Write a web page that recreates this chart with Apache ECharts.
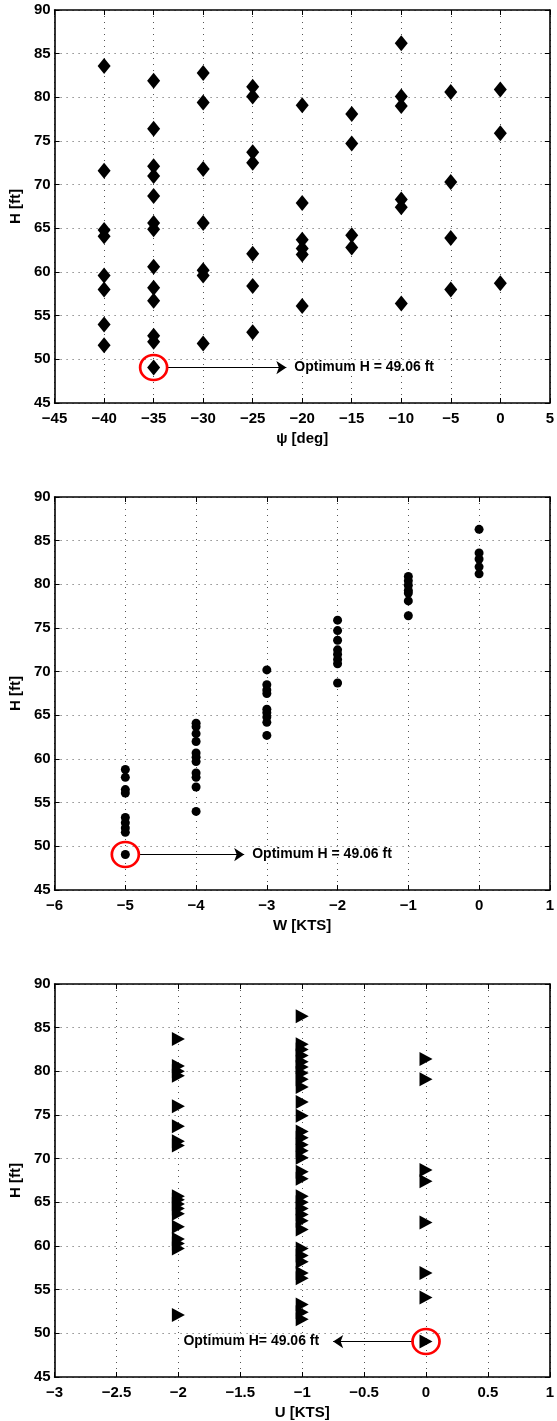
<!DOCTYPE html>
<html>
<head>
<meta charset="utf-8">
<script src="https://cdn.jsdelivr.net/npm/echarts@6/dist/echarts.min.js"></script>
<style>
  html, body { margin: 0; padding: 0; background: #fff; }
  #chart { width: 557px; height: 1421px; }
</style>
</head>
<body>
<div id="chart"></div>
<script>
// heights found for each heading (psi), descent rate (W) and forward speed (U)
var psiValues = [-40, -35, -30, -25, -20, -15, -10, -5, 0]
var hAtPsi = [
  [83.6, 71.6, 64.8, 64.1, 59.6, 58.0, 54.0, 51.6],
  [81.9, 76.4, 72.1, 71.0, 68.7, 65.6, 64.9, 60.6, 58.2, 56.7, 52.7, 52.0, 49.06],
  [82.8, 79.4, 71.8, 65.6, 60.2, 59.6, 51.8],
  [81.2, 80.1, 73.7, 72.5, 62.1, 58.4, 53.1],
  [79.1, 67.9, 63.7, 62.7, 62.0, 56.1],
  [78.1, 74.7, 64.2, 62.8],
  [86.2, 80.1, 79.0, 68.3, 67.4, 56.4],
  [80.6, 70.3, 63.9, 58.0],
  [80.9, 75.9, 58.7]
]

var wValues = [-5, -4, -3, -2, -1, 0]
var hAtW = [
  [58.8, 57.9, 56.5, 56.1, 53.3, 52.7, 52.1, 51.6, 49.06],
  [64.1, 63.7, 62.9, 62.0, 60.7, 60.2, 59.7, 58.4, 57.9, 56.8, 54.0],
  [70.2, 68.5, 67.9, 67.5, 65.7, 65.3, 64.8, 64.2, 62.7],
  [75.9, 74.7, 73.6, 72.5, 72.0, 71.4, 70.9, 68.7],
  [80.9, 80.4, 79.9, 79.3, 79.0, 78.1, 76.4],
  [86.3, 83.6, 82.9, 82.0, 81.2]
]

var uValues = [-2, -1, 0]
var hAtU = [
  [83.7, 80.6, 80.0, 79.5, 76.0, 73.7, 72.0, 71.5, 65.7, 65.3, 64.8, 64.3, 63.7, 62.2, 60.8, 60.3, 59.7, 52.1],
  [86.3, 83.1, 82.5, 81.8, 81.1, 80.5, 79.8, 79.1, 78.2, 76.5, 74.9, 73.1, 72.4, 71.6, 70.9, 70.1,
    68.5, 67.7, 65.7, 65.0, 64.3, 63.6, 62.9, 61.9, 59.7, 58.9, 58.2, 56.9, 56.3, 53.3, 52.4, 51.6],
  [81.4, 79.1, 68.7, 67.4, 62.7, 56.9, 54.1, 49.06]
]

var optH = 49.06
var optLabel = 'Optimum H = 49.06 ft'
var optLabelU = 'Optimum H= 49.06 ft'

var font = "'Liberation Sans', Arial, Helvetica, sans-serif"
var gridTops = [10, 497, 984]

function toPairs(xs, hs) {
  var out = []
  for (var i = 0; i < xs.length; i++) {
    for (var j = 0; j < hs[i].length; j++) {
      out.push([xs[i], hs[i][j]])
    }
  }
  return out
}

function minusSign(v) {
  return String(v).replace('-', '\u2212')
}

var dotted = { color: '#555', width: 1, type: [1, 5] }
var boxLine = { onZero: false, lineStyle: { color: '#000', width: 1.6 } }
var inTick = { show: true, inside: true, length: 5, lineStyle: { color: '#000' } }
var tickFont = { fontFamily: font, fontWeight: 'bold', fontSize: 15, color: '#000' }

var grids = []
var xAxes = []
var yAxes = []
var series = []

function addPanel(idx, name, min, max, interval, data, symbol, symbolSize, symbolRotate, optX, arrowFrom, arrowTo, label, labelDist) {
  grids.push({ left: 53, width: 500, top: gridTops[idx], height: 393 })
  // bottom + top x axes, left + right y axes (box with ticks on all sides)
  xAxes.push({
    gridIndex: idx, type: 'value', position: 'bottom', min: min, max: max, interval: interval,
    name: name, nameLocation: 'middle', nameGap: 28,
    nameTextStyle: { fontFamily: font, fontWeight: 'bold', fontSize: 15, color: '#000' },
    axisLine: boxLine,
    axisTick: inTick,
    axisLabel: Object.assign({ margin: 8, formatter: minusSign }, tickFont),
    splitLine: { show: true, lineStyle: dotted }
  })
  xAxes.push({
    gridIndex: idx, type: 'value', position: 'top', min: min, max: max, interval: interval,
    axisLine: boxLine,
    axisTick: inTick,
    axisLabel: { show: false },
    splitLine: { show: false }
  })
  yAxes.push({
    gridIndex: idx, type: 'value', position: 'left', min: 45, max: 90, interval: 5,
    name: 'H [ft]', nameLocation: 'middle', nameGap: 28, nameRotate: 90,
    nameTextStyle: { fontFamily: font, fontWeight: 'bold', fontSize: 15, color: '#000' },
    axisLine: Object.assign({ show: true }, boxLine),
    axisTick: inTick,
    axisLabel: Object.assign({ margin: 4 }, tickFont),
    splitLine: { show: true, lineStyle: dotted }
  })
  yAxes.push({
    gridIndex: idx, type: 'value', position: 'right', min: 45, max: 90, interval: 5,
    axisLine: Object.assign({ show: true }, boxLine),
    axisTick: inTick,
    axisLabel: { show: false },
    splitLine: { show: false }
  })
  series.push({
    type: 'scatter',
    xAxisIndex: idx * 2,
    yAxisIndex: idx * 2,
    data: data,
    symbol: symbol,
    symbolSize: symbolSize,
    symbolRotate: symbolRotate,
    itemStyle: { color: '#000', opacity: 1 },
    markPoint: {
      silent: true,
      data: [{
        coord: [optX, optH],
        symbol: 'circle',
        symbolSize: [27, 25],
        itemStyle: { color: 'rgba(0,0,0,0)', borderColor: '#ff0000', borderWidth: 2.6 },
        label: { show: false }
      }]
    },
    markLine: {
      silent: true,
      symbol: ['none', 'arrow'],
      symbolSize: 10,
      lineStyle: { color: '#000', width: 1, type: 'solid' },
      label: {
        show: true, position: 'end', distance: labelDist, formatter: label,
        fontFamily: font, fontWeight: 'bold', fontSize: 14, color: '#000'
      },
      data: [[{ coord: [arrowFrom, optH] }, { coord: [arrowTo, optH] }]]
    }
  })
}

addPanel(0, '\u03c8 [deg]', -45, 5, 5, toPairs(psiValues, hAtPsi), 'diamond', [13, 16], 0,
  -35, -33.6, -21.6, optLabel, 8)
addPanel(1, 'W [KTS]', -6, 1, 1, toPairs(wValues, hAtW), 'circle', 9, 0,
  -5, -4.82, -3.32, optLabel, 8)
addPanel(2, 'U [KTS]', -3, 1, 0.5, toPairs(uValues, hAtU), 'triangle', [14, 13], -90,
  0, -0.1, -0.75, optLabelU, 14)

var chart = echarts.init(document.getElementById('chart'))
chart.setOption({
  animation: false,
  backgroundColor: '#fff',
  textStyle: { fontFamily: font },
  grid: grids,
  xAxis: xAxes,
  yAxis: yAxes,
  series: series
})
</script>
</body>
</html>
